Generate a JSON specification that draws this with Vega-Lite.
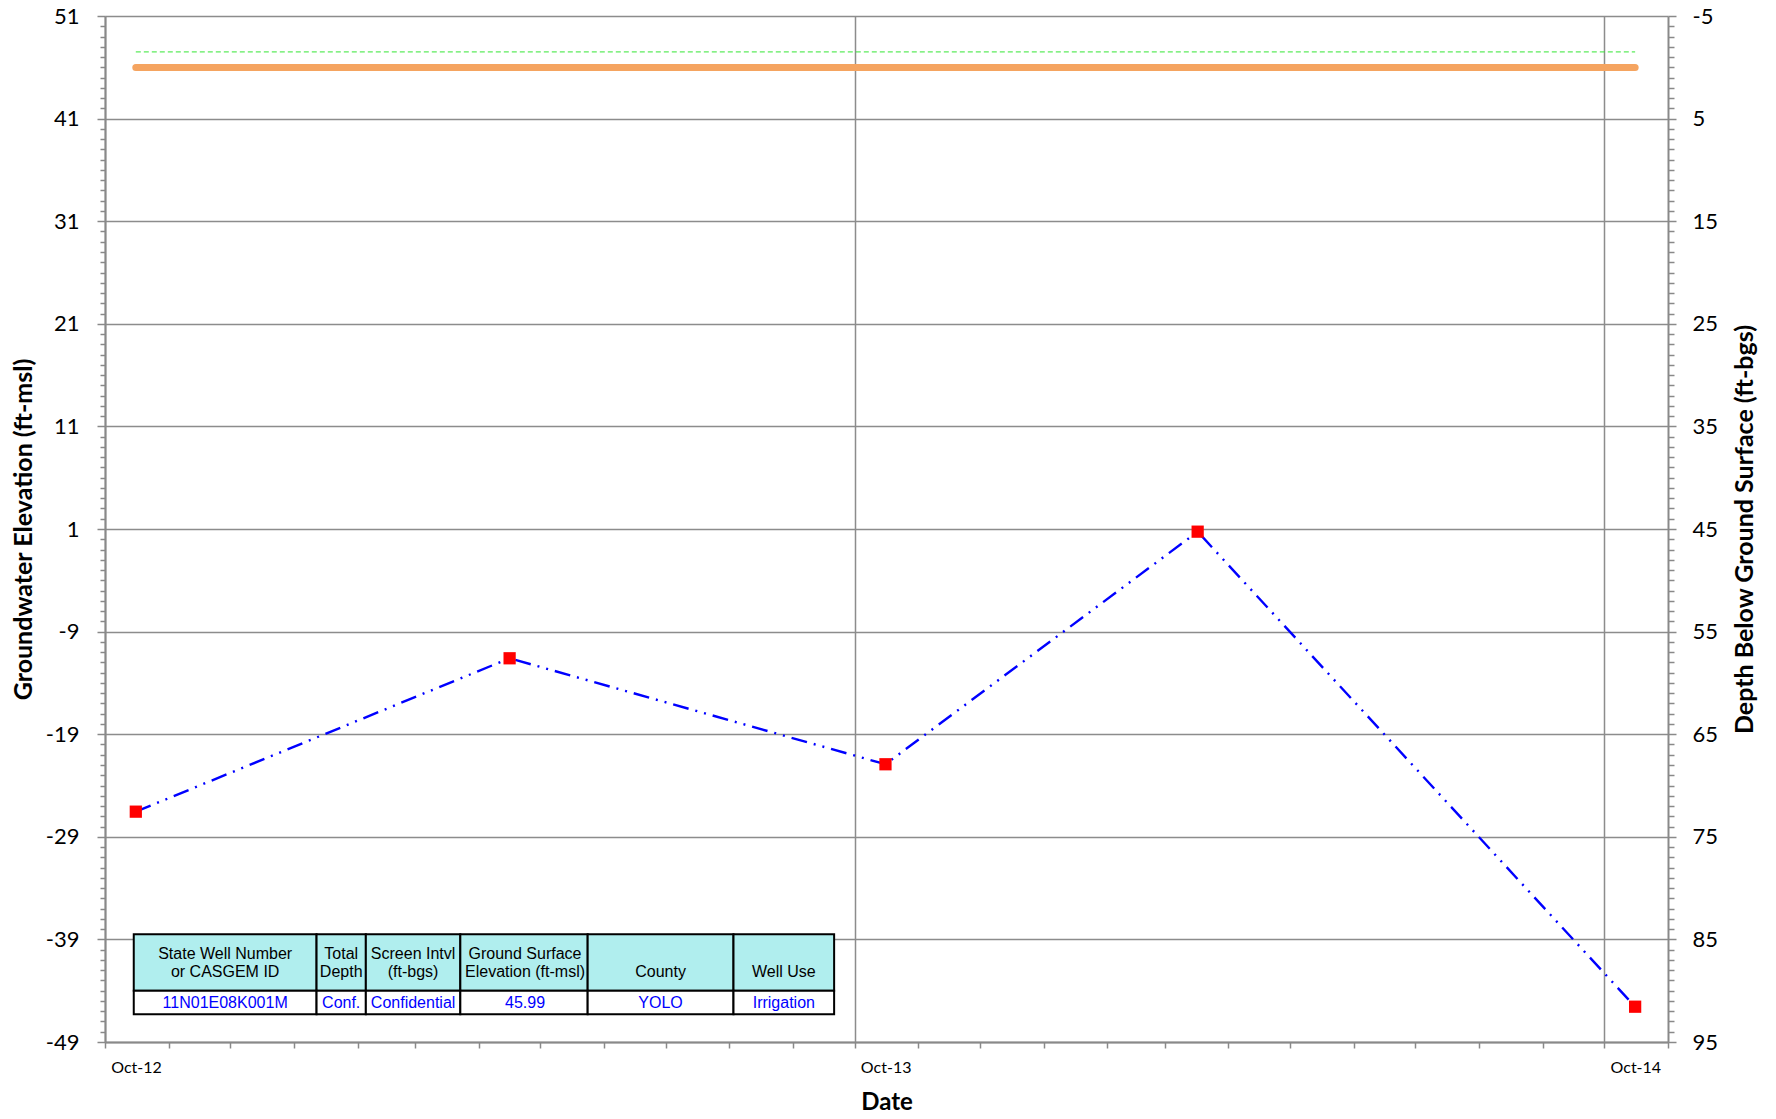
{
  "$schema": "https://vega.github.io/schema/vega-lite/v6.json",
  "width": 1563,
  "height": 1026,
  "autosize": "none",
  "padding": {"left": 105, "top": 16, "right": 108, "bottom": 77},
  "background": "white",
  "config": {
    "view": {"stroke": null},
    "axis": {
      "domainColor": "#898989",
      "domainWidth": 2,
      "tickColor": "#898989",
      "tickWidth": 1.5,
      "gridColor": "#8c8c8c",
      "gridWidth": 1.5,
      "labelFont": "Lato",
      "labelColor": "black",
      "titleFont": "Lato",
      "titleFontWeight": "bold",
      "titleColor": "black"
    }
  },
  "datasets": {
    "wells": [
      {"date": "2012-10-16T00:00:00", "elev": -26.55, "depth": 72.54},
      {"date": "2013-04-16T00:00:00", "elev": -11.6, "depth": 57.59},
      {"date": "2013-10-16T00:00:00", "elev": -21.93, "depth": 67.92},
      {"date": "2014-03-17T00:00:00", "elev": 0.74, "depth": 45.25},
      {"date": "2014-10-16T00:00:00", "elev": -45.56, "depth": 91.55}
    ],
    "table": [
      {"start": "2012-10-15T00:00:00", "end": "2013-01-12T00:00:00", "mid": "2012-11-28T12:00:00", "head": "State Well Number\nor CASGEM ID", "value": "11N01E08K001M"},
      {"start": "2013-01-12T00:00:00", "end": "2013-02-05T00:00:00", "mid": "2013-01-24T00:00:00", "head": "Total\nDepth", "value": "Conf."},
      {"start": "2013-02-05T00:00:00", "end": "2013-03-23T00:00:00", "mid": "2013-02-28T00:00:00", "head": "Screen Intvl\n(ft-bgs)", "value": "Confidential"},
      {"start": "2013-03-23T00:00:00", "end": "2013-05-24T00:00:00", "mid": "2013-04-23T12:00:00", "head": "Ground Surface\nElevation (ft-msl)", "value": "45.99"},
      {"start": "2013-05-24T00:00:00", "end": "2013-08-03T00:00:00", "mid": "2013-06-28T12:00:00", "head": "\nCounty", "value": "YOLO"},
      {"start": "2013-08-03T00:00:00", "end": "2013-09-21T00:00:00", "mid": "2013-08-27T12:00:00", "head": "\nWell Use", "value": "Irrigation"}
    ]
  },
  "layer": [
    {
      "layer": [
        {
          "data": {"name": "wells"},
          "mark": {"type": "line", "color": "#0000FF", "strokeWidth": 2.4, "strokeDash": [16, 7, 2, 7, 2, 7]},
          "encoding": {
            "x": {
              "field": "date", "type": "temporal",
              "scale": {"domain": [{"year": 2012, "month": 10, "date": 1}, {"year": 2014, "month": 11, "date": 1}]},
              "title": "Date",
              "axis": {
                "values": [
                  {"year": 2012, "month": 10, "date": 1}, {"year": 2012, "month": 11, "date": 1}, {"year": 2012, "month": 12, "date": 1},
                  {"year": 2013, "month": 1, "date": 1}, {"year": 2013, "month": 2, "date": 1}, {"year": 2013, "month": 3, "date": 1},
                  {"year": 2013, "month": 4, "date": 1}, {"year": 2013, "month": 5, "date": 1}, {"year": 2013, "month": 6, "date": 1},
                  {"year": 2013, "month": 7, "date": 1}, {"year": 2013, "month": 8, "date": 1}, {"year": 2013, "month": 9, "date": 1},
                  {"year": 2013, "month": 10, "date": 1}, {"year": 2013, "month": 11, "date": 1}, {"year": 2013, "month": 12, "date": 1},
                  {"year": 2014, "month": 1, "date": 1}, {"year": 2014, "month": 2, "date": 1}, {"year": 2014, "month": 3, "date": 1},
                  {"year": 2014, "month": 4, "date": 1}, {"year": 2014, "month": 5, "date": 1}, {"year": 2014, "month": 6, "date": 1},
                  {"year": 2014, "month": 7, "date": 1}, {"year": 2014, "month": 8, "date": 1}, {"year": 2014, "month": 9, "date": 1},
                  {"year": 2014, "month": 10, "date": 1}, {"year": 2014, "month": 11, "date": 1}
                ],
                "tickCount": 100,
                "labelExpr": "month(datum.value) === 9 ? timeFormat(datum.value, '%b-%y') : ''",
                "labelOverlap": false,
                "labelFontSize": 16,
                "labelAlign": "center",
                "labelOffset": 31,
                "labelPadding": 11,
                "tickSize": 6,
                "grid": true,
                "gridOpacity": {"condition": {"test": "month(datum.value) === 9", "value": 1}, "value": 0},
                "titleFontSize": 24,
                "titlePadding": 15
              }
            },
            "y": {
              "field": "elev", "type": "quantitative",
              "scale": {"domain": [-49, 51], "nice": false, "zero": false},
              "title": "Groundwater Elevation (ft-msl)",
              "axis": {
                "values": [-49,-48,-47,-46,-45,-44,-43,-42,-41,-40,-39,-38,-37,-36,-35,-34,-33,-32,-31,-30,-29,-28,-27,-26,-25,-24,-23,-22,-21,-20,-19,-18,-17,-16,-15,-14,-13,-12,-11,-10,-9,-8,-7,-6,-5,-4,-3,-2,-1,0,1,2,3,4,5,6,7,8,9,10,11,12,13,14,15,16,17,18,19,20,21,22,23,24,25,26,27,28,29,30,31,32,33,34,35,36,37,38,39,40,41,42,43,44,45,46,47,48,49,50,51],
                "tickCount": 200,
                "labelExpr": "(datum.value + 49) % 10 === 0 ? '' + datum.value : ''",
                "labelOverlap": false,
                "labelFontSize": 22,
                "labelPadding": 18,
                "tickSize": {"condition": {"test": "(datum.value + 49) % 10 === 0", "value": 8}, "value": 5},
                "grid": true,
                "gridOpacity": {"condition": {"test": "(datum.value + 49) % 10 === 0", "value": 1}, "value": 0},
                "titleFontSize": 25,
                "titlePadding": 9
              }
            }
          }
        },
        {
          "data": {"name": "wells"},
          "mark": {"type": "rule", "color": "#33E633", "strokeWidth": 1, "strokeDash": [5, 3]},
          "encoding": {
            "x": {"aggregate": "min", "field": "date", "type": "temporal", "title": "Date", "scale": {"domain": [{"year": 2012, "month": 10, "date": 1}, {"year": 2014, "month": 11, "date": 1}]}},
            "x2": {"aggregate": "max", "field": "date"},
            "y": {"datum": 47.5, "type": "quantitative", "title": "Groundwater Elevation (ft-msl)", "scale": {"domain": [-49, 51], "nice": false, "zero": false}}
          }
        },
        {
          "data": {"name": "wells"},
          "mark": {"type": "rule", "color": "#F5A460", "strokeWidth": 7, "strokeCap": "round"},
          "encoding": {
            "x": {"aggregate": "min", "field": "date", "type": "temporal", "title": "Date", "scale": {"domain": [{"year": 2012, "month": 10, "date": 1}, {"year": 2014, "month": 11, "date": 1}]}},
            "x2": {"aggregate": "max", "field": "date"},
            "y": {"datum": 45.99, "type": "quantitative", "title": "Groundwater Elevation (ft-msl)", "scale": {"domain": [-49, 51], "nice": false, "zero": false}}
          }
        },
        {
          "data": {"name": "wells"},
          "mark": {"type": "point", "shape": "square", "filled": true, "color": "#FF0000", "size": 150, "opacity": 1},
          "encoding": {
            "x": {"field": "date", "type": "temporal", "title": "Date", "scale": {"domain": [{"year": 2012, "month": 10, "date": 1}, {"year": 2014, "month": 11, "date": 1}]}},
            "y": {"field": "elev", "type": "quantitative", "title": "Groundwater Elevation (ft-msl)", "scale": {"domain": [-49, 51], "nice": false, "zero": false}}
          }
        },
        {
          "data": {"name": "table"},
          "mark": {"type": "rect", "fill": "#B0EEEE", "stroke": "black", "strokeWidth": 2},
          "encoding": {
            "x": {"field": "start", "type": "temporal", "title": "Date", "scale": {"domain": [{"year": 2012, "month": 10, "date": 1}, {"year": 2014, "month": 11, "date": 1}]}},
            "x2": {"field": "end"},
            "y": {"datum": -38.5, "type": "quantitative", "title": "Groundwater Elevation (ft-msl)", "scale": {"domain": [-49, 51], "nice": false, "zero": false}},
            "y2": {"datum": -44.0}
          }
        },
        {
          "data": {"name": "table"},
          "mark": {"type": "rect", "fill": "white", "stroke": "black", "strokeWidth": 2},
          "encoding": {
            "x": {"field": "start", "type": "temporal", "title": "Date", "scale": {"domain": [{"year": 2012, "month": 10, "date": 1}, {"year": 2014, "month": 11, "date": 1}]}},
            "x2": {"field": "end"},
            "y": {"datum": -44.0, "type": "quantitative", "title": "Groundwater Elevation (ft-msl)", "scale": {"domain": [-49, 51], "nice": false, "zero": false}},
            "y2": {"datum": -46.3}
          }
        },
        {
          "data": {"name": "table"},
          "mark": {"type": "text", "font": "Liberation Sans", "fontSize": 16, "color": "black", "align": "center", "baseline": "middle", "lineBreak": "\n", "lineHeight": 18},
          "encoding": {
            "x": {"field": "mid", "type": "temporal", "title": "Date", "scale": {"domain": [{"year": 2012, "month": 10, "date": 1}, {"year": 2014, "month": 11, "date": 1}]}},
            "y": {"datum": -40.4, "type": "quantitative", "title": "Groundwater Elevation (ft-msl)", "scale": {"domain": [-49, 51], "nice": false, "zero": false}},
            "text": {"field": "head"}
          }
        },
        {
          "data": {"name": "table"},
          "mark": {"type": "text", "font": "Liberation Sans", "fontSize": 16, "color": "#0000FF", "align": "center", "baseline": "middle"},
          "encoding": {
            "x": {"field": "mid", "type": "temporal", "title": "Date", "scale": {"domain": [{"year": 2012, "month": 10, "date": 1}, {"year": 2014, "month": 11, "date": 1}]}},
            "y": {"datum": -45.2, "type": "quantitative", "title": "Groundwater Elevation (ft-msl)", "scale": {"domain": [-49, 51], "nice": false, "zero": false}},
            "text": {"field": "value"}
          }
        }
      ]
    },
    {
      "data": {"name": "wells"},
      "mark": {"type": "point", "opacity": 0},
      "encoding": {
        "x": {"field": "date", "type": "temporal", "title": "Date", "scale": {"domain": [{"year": 2012, "month": 10, "date": 1}, {"year": 2014, "month": 11, "date": 1}]}},
        "y": {
          "field": "depth", "type": "quantitative",
          "scale": {"domain": [-5, 95], "reverse": true, "nice": false, "zero": false},
          "title": "Depth Below Ground Surface (ft-bgs)",
          "axis": {
            "orient": "right",
            "values": [-5,-4,-3,-2,-1,0,1,2,3,4,5,6,7,8,9,10,11,12,13,14,15,16,17,18,19,20,21,22,23,24,25,26,27,28,29,30,31,32,33,34,35,36,37,38,39,40,41,42,43,44,45,46,47,48,49,50,51,52,53,54,55,56,57,58,59,60,61,62,63,64,65,66,67,68,69,70,71,72,73,74,75,76,77,78,79,80,81,82,83,84,85,86,87,88,89,90,91,92,93,94,95],
            "tickCount": 200,
            "labelExpr": "(datum.value + 5) % 10 === 0 ? '' + datum.value : ''",
            "labelOverlap": false,
            "labelFontSize": 22,
            "labelPadding": 16,
            "tickSize": {"condition": {"test": "(datum.value + 5) % 10 === 0", "value": 8}, "value": 6},
            "grid": false,
            "titleFontSize": 25,
            "titleAngle": 270,
            "titleBaseline": "top",
            "titlePadding": 15
          }
        }
      }
    }
  ],
  "resolve": {"scale": {"y": "independent"}}
}
